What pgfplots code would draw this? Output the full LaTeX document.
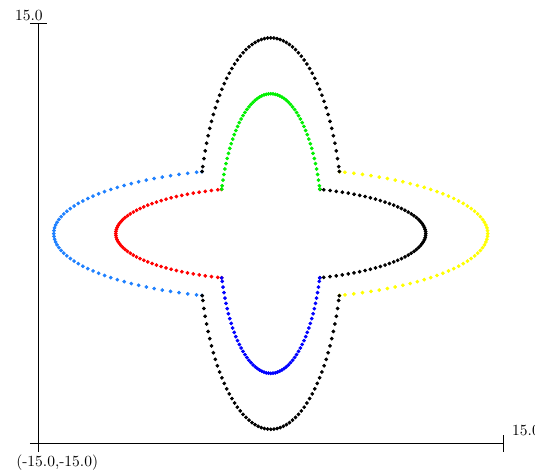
\documentclass[border=0pt]{standalone}
\usepackage{pgfplots}
\usepackage{pgfplotstable}
\pgfplotsset{compat=1.18}

\definecolor{skyblue}{RGB}{30,128,255}
\definecolor{limegreen}{RGB}{0,240,0}
\definecolor{brightyellow}{RGB}{255,255,0}

% Sample points of the two ellipse families.
% p = 10 cos(phi), q = (10/3) sin(phi)   -> inner ellipses
% P = 14 cos(phi), Q = (14/3) sin(phi)   -> outer ellipses
% mp, mP are the mirrored x values.
\pgfplotstableread{
phi p q P Q mp mP
-71.5 3.173 -3.1611 4.442 -4.4255 -3.173 -4.442
-70 3.420 -3.1323 4.788 -4.3852 -3.420 -4.788
-67.5 3.827 -3.0796 5.358 -4.3114 -3.827 -5.358
-65 4.226 -3.0210 5.917 -4.2294 -4.226 -5.917
-62.5 4.618 -2.9567 6.465 -4.1394 -4.618 -6.465
-60 5.000 -2.8868 7.000 -4.0414 -5.000 -7.000
-57.5 5.373 -2.8113 7.522 -3.9358 -5.373 -7.522
-55 5.736 -2.7305 8.030 -3.8227 -5.736 -8.030
-52.5 6.088 -2.6445 8.523 -3.7023 -6.088 -8.523
-50 6.428 -2.5535 8.999 -3.5749 -6.428 -8.999
-47.5 6.756 -2.4576 9.458 -3.4406 -6.756 -9.458
-45 7.071 -2.3570 9.900 -3.2998 -7.071 -9.900
-42.5 7.373 -2.2520 10.322 -3.1528 -7.373 -10.322
-40 7.660 -2.1426 10.725 -2.9997 -7.660 -10.725
-37.5 7.934 -2.0292 11.107 -2.8409 -7.934 -11.107
-35 8.192 -1.9119 11.468 -2.6767 -8.192 -11.468
-32.5 8.434 -1.7910 11.807 -2.5074 -8.434 -11.807
-30 8.660 -1.6667 12.124 -2.3333 -8.660 -12.124
-27.5 8.870 -1.5392 12.418 -2.1548 -8.870 -12.418
-25 9.063 -1.4087 12.688 -1.9722 -9.063 -12.688
-22.5 9.239 -1.2756 12.934 -1.7858 -9.239 -12.934
-20 9.397 -1.1401 13.156 -1.5961 -9.397 -13.156
-17.5 9.537 -1.0024 13.352 -1.4033 -9.537 -13.352
-15 9.659 -0.8627 13.523 -1.2078 -9.659 -13.523
-12.5 9.763 -0.7215 13.668 -1.0101 -9.763 -13.668
-10 9.848 -0.5788 13.787 -0.8104 -9.848 -13.787
-7.5 9.914 -0.4351 13.880 -0.6091 -9.914 -13.880
-5 9.962 -0.2905 13.947 -0.4067 -9.962 -13.947
-2.5 9.990 -0.1454 13.987 -0.2036 -9.990 -13.987
0 10.000 0.0000 14.000 0.0000 -10.000 -14.000
2.5 9.990 0.1454 13.987 0.2036 -9.990 -13.987
5 9.962 0.2905 13.947 0.4067 -9.962 -13.947
7.5 9.914 0.4351 13.880 0.6091 -9.914 -13.880
10 9.848 0.5788 13.787 0.8104 -9.848 -13.787
12.5 9.763 0.7215 13.668 1.0101 -9.763 -13.668
15 9.659 0.8627 13.523 1.2078 -9.659 -13.523
17.5 9.537 1.0024 13.352 1.4033 -9.537 -13.352
20 9.397 1.1401 13.156 1.5961 -9.397 -13.156
22.5 9.239 1.2756 12.934 1.7858 -9.239 -12.934
25 9.063 1.4087 12.688 1.9722 -9.063 -12.688
27.5 8.870 1.5392 12.418 2.1548 -8.870 -12.418
30 8.660 1.6667 12.124 2.3333 -8.660 -12.124
32.5 8.434 1.7910 11.807 2.5074 -8.434 -11.807
35 8.192 1.9119 11.468 2.6767 -8.192 -11.468
37.5 7.934 2.0292 11.107 2.8409 -7.934 -11.107
40 7.660 2.1426 10.725 2.9997 -7.660 -10.725
42.5 7.373 2.2520 10.322 3.1528 -7.373 -10.322
45 7.071 2.3570 9.900 3.2998 -7.071 -9.900
47.5 6.756 2.4576 9.458 3.4406 -6.756 -9.458
50 6.428 2.5535 8.999 3.5749 -6.428 -8.999
52.5 6.088 2.6445 8.523 3.7023 -6.088 -8.523
55 5.736 2.7305 8.030 3.8227 -5.736 -8.030
57.5 5.373 2.8113 7.522 3.9358 -5.373 -7.522
60 5.000 2.8868 7.000 4.0414 -5.000 -7.000
62.5 4.618 2.9567 6.465 4.1394 -4.618 -6.465
65 4.226 3.0210 5.917 4.2294 -4.226 -5.917
67.5 3.827 3.0796 5.358 4.3114 -3.827 -5.358
70 3.420 3.1323 4.788 4.3852 -3.420 -4.788
71.5 3.173 3.1611 4.442 4.4255 -3.173 -4.442
}\ellipsetab

\begin{document}
\begin{tikzpicture}
\begin{axis}[
  x=10pt, y=9.02pt,
  xmin=-15, xmax=15, ymin=-15, ymax=15,
  hide axis, clip=false,
  every axis plot/.append style={only marks, mark=*, mark size=1pt},
]
% inner star: horizontal ellipse (left/right), vertical ellipse (top/bottom)
\addplot[red, mark options={draw=red, fill=red}] table[x=mp, y=q] {\ellipsetab};
\addplot[black, mark options={draw=black, fill=black}] table[x=p, y=q] {\ellipsetab};
\addplot[limegreen, mark options={draw=limegreen, fill=limegreen}] table[x=q, y=p] {\ellipsetab};
\addplot[blue, mark options={draw=blue, fill=blue}] table[x=q, y=mp] {\ellipsetab};
% outer star
\addplot[skyblue, mark options={draw=skyblue, fill=skyblue}] table[x=mP, y=Q] {\ellipsetab};
\addplot[brightyellow, mark options={draw=brightyellow, fill=brightyellow}] table[x=P, y=Q] {\ellipsetab};
\addplot[black, mark options={draw=black, fill=black}] table[x=Q, y=P] {\ellipsetab};
\addplot[black, mark options={draw=black, fill=black}] table[x=Q, y=mP] {\ellipsetab};

\coordinate (O) at (axis cs:-15,-15);
\coordinate (T) at (axis cs:-15,15);
\coordinate (R) at (axis cs:15,-15);
\end{axis}

% axis cross with end ticks
\draw[line width=0.6pt] ([yshift=-5.5pt]O) -- (T);
\draw[line width=0.6pt] ([xshift=-5.5pt]T) -- ([xshift=5.5pt]T);
\draw[line width=0.6pt] ([xshift=-5.5pt]O) -- (R);
\draw[line width=0.6pt] ([yshift=-5.5pt]R) -- ([yshift=5.5pt]R);

\node[anchor=base east, inner sep=0pt] at ([shift={(3pt,2pt)}]T) {15.0};
\node[anchor=base west, inner sep=0pt] at ([shift={(5.6pt,5pt)}]R) {15.0};
\node[anchor=base west, inner sep=0pt] at ([shift={(-14.4pt,-15.3pt)}]O) {(-15.0,-15.0)};

\pgfresetboundingbox
\path ([shift={(-24.7pt,-17.9pt)}]O) rectangle ([shift={(320.5pt,286pt)}]O);
\end{tikzpicture}
\end{document}
